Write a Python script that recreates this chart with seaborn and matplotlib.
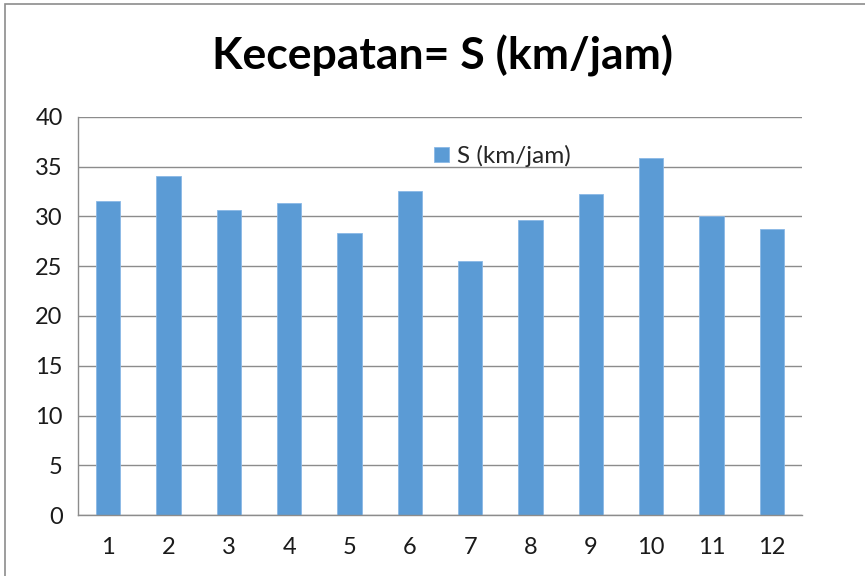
import matplotlib
matplotlib.use("Agg")
import matplotlib.pyplot as plt
import matplotlib.patches as mpatches
import seaborn as sns
import pandas as pd

# data
minggu = [str(i) for i in range(1, 13)]
kecepatan = [31.6, 34.1, 30.7, 31.4, 28.3, 32.6, 25.5, 29.6, 32.3, 35.9, 30.1, 28.7]

df = pd.DataFrame({"Minggu": minggu, "S": kecepatan})

sns.set_style("white")
plt.rcParams["font.family"] = ["Lato", "DejaVu Sans"]

fig = plt.figure(figsize=(8.65, 5.76), dpi=100)
ax = fig.add_axes([78 / 865, 1 - 515 / 576, 724 / 865, 398 / 576])

sns.barplot(data=df, x="Minggu", y="S", order=minggu, color="#5B9BD5",
            width=0.4, saturation=1, edgecolor="#8AB8E6", linewidth=0.6,
            label="S (km/jam)", ax=ax)

ax.set_ylim(0, 40)
ax.set_xlim(-0.5, 11.5)
ax.set_yticks(range(0, 41, 5))
ax.yaxis.grid(True, color="#8C8C8C", linewidth=1.0)
ax.set_axisbelow(True)
ax.set_xlabel("")
ax.set_ylabel("")

for side in ["top", "right"]:
    ax.spines[side].set_visible(False)
for side in ["left", "bottom"]:
    ax.spines[side].set_color("#8C8C8C")
    ax.spines[side].set_linewidth(1.0)

# tick marks between the categories, like Excel
ax.set_xticks([i - 0.5 for i in range(13)], minor=True)
ax.tick_params(axis="x", which="minor", length=9, width=1, color="#8C8C8C", direction="out")
ax.tick_params(axis="x", which="major", length=0, pad=16, labelsize=17, labelcolor="#1a1a1a")
ax.tick_params(axis="y", length=5, width=1, color="#8C8C8C", direction="out", pad=6,
               labelsize=17, labelcolor="#1a1a1a")

leg = ax.legend(loc="upper left", bbox_to_anchor=(0.462, 0.985), frameon=False,
                fontsize=17.5, handlelength=0.6, handleheight=0.6, handletextpad=0.35)

fig.text(0.512, 1 - 56 / 576, "Kecepatan= S (km/jam)", ha="center", va="center",
         fontsize=32, fontweight="bold", color="black")

# chart area border
fig.patches.append(mpatches.Rectangle((5 / 865, -0.1), 2, 1.1 - 4 / 576, transform=fig.transFigure,
                                      fill=False, edgecolor="#8C8C8C", linewidth=1.2))

fig.savefig("out.png", dpi=100)
